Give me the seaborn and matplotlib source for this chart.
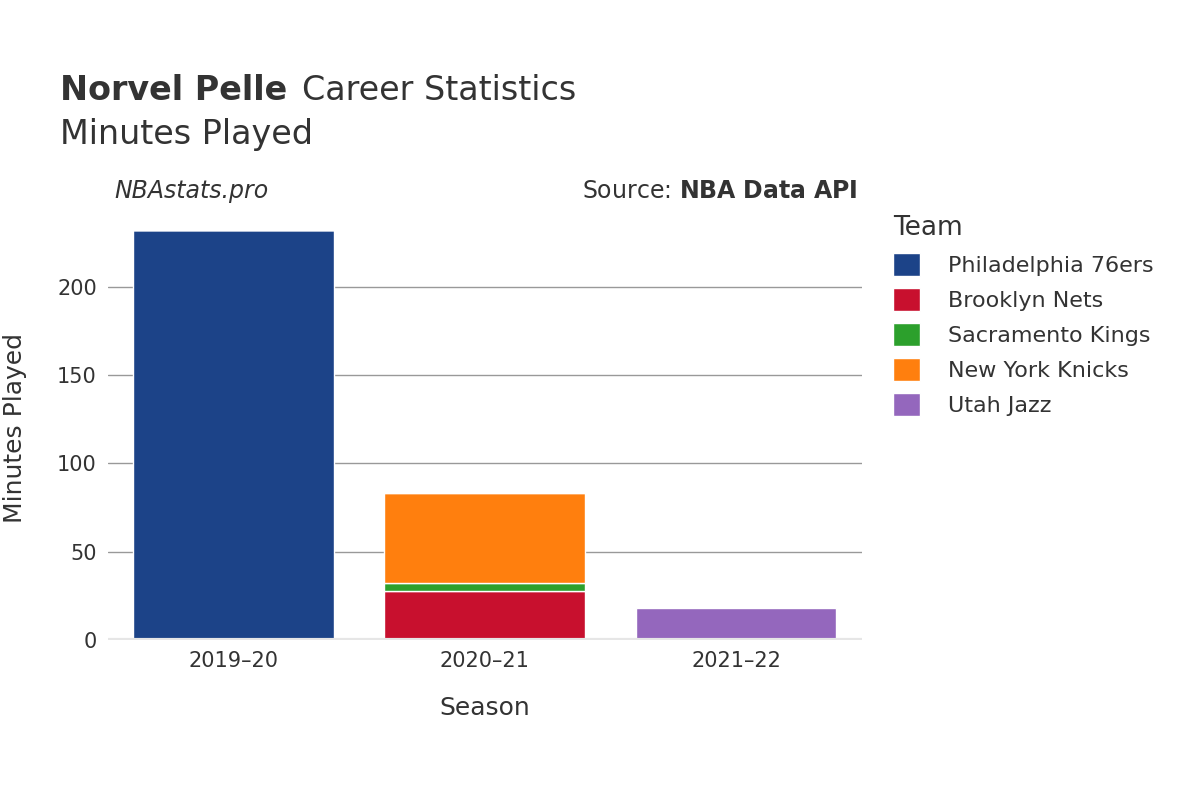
import matplotlib
matplotlib.use("Agg")
import matplotlib.pyplot as plt
import seaborn as sns
import pandas as pd
from matplotlib.patches import FancyBboxPatch

seasons = ["2019–20", "2020–21", "2021–22"]
teams = ["Philadelphia 76ers", "Brooklyn Nets", "Sacramento Kings", "New York Knicks", "Utah Jazz"]
colors = ["#1c4388", "#c8102e", "#2ca02c", "#ff7f0e", "#9467bd"]
minutes = {
    "Philadelphia 76ers": [232, 0, 0],
    "Brooklyn Nets": [0, 28, 0],
    "Sacramento Kings": [0, 4, 0],
    "New York Knicks": [0, 51, 0],
    "Utah Jazz": [0, 0, 18],
}

sns.set_theme(style="white", font="DejaVu Sans")
fig = plt.figure(figsize=(12, 8), dpi=100)
ax = fig.add_axes([0.09, 0.2, 0.628, 0.53])

bottom = [0, 0, 0]
for t, c in zip(teams, colors):
    df = pd.DataFrame({"Season": seasons, "v": minutes[t], "b": bottom})
    ax.bar(df["Season"], df["v"], bottom=df["b"], color=c, width=0.8, label=t, zorder=3)
    bottom = [b + v for b, v in zip(bottom, minutes[t])]

ax.set_xlim(-0.5, 2.5)
ax.set_ylim(0, 240)
ax.set_yticks([0, 50, 100, 150, 200])
ax.grid(axis="y", color="#999999", linewidth=1, zorder=0)
ax.axhline(0, color="#e6e6e6", linewidth=3, zorder=4)
for s in ax.spines.values():
    s.set_visible(False)
ax.tick_params(axis="both", labelsize=15, colors="#333333", length=0, pad=8)
ax.set_xlabel("Season", fontsize=18, color="#333333", labelpad=18)
ax.set_ylabel("Minutes Played", fontsize=18, color="#333333", labelpad=22)

fig.text(0.05, 0.875, "Norvel Pelle", fontsize=24, fontweight="bold", color="#333333")
fig.text(0.252, 0.875, "Career Statistics", fontsize=24, color="#333333")
fig.text(0.05, 0.82, "Minutes Played", fontsize=24, color="#333333")
fig.text(0.095, 0.752, "NBAstats.pro", fontsize=17, style="italic", color="#333333")
fig.text(0.715, 0.752, "Source: $\\bf{NBA\\ Data\\ API}$", fontsize=17, color="#333333", ha="right")

leg = ax.legend(title="Team", loc="upper left", bbox_to_anchor=(1.015, 1.05), frameon=False,
                fontsize=16, title_fontsize=19, handlelength=1.2, handleheight=1.2,
                labelspacing=0.55, handletextpad=1.3, alignment="left")
for txt in leg.get_texts():
    txt.set_color("#333333")
leg.get_title().set_color("#333333")

fig.savefig("out.png", dpi=100)
